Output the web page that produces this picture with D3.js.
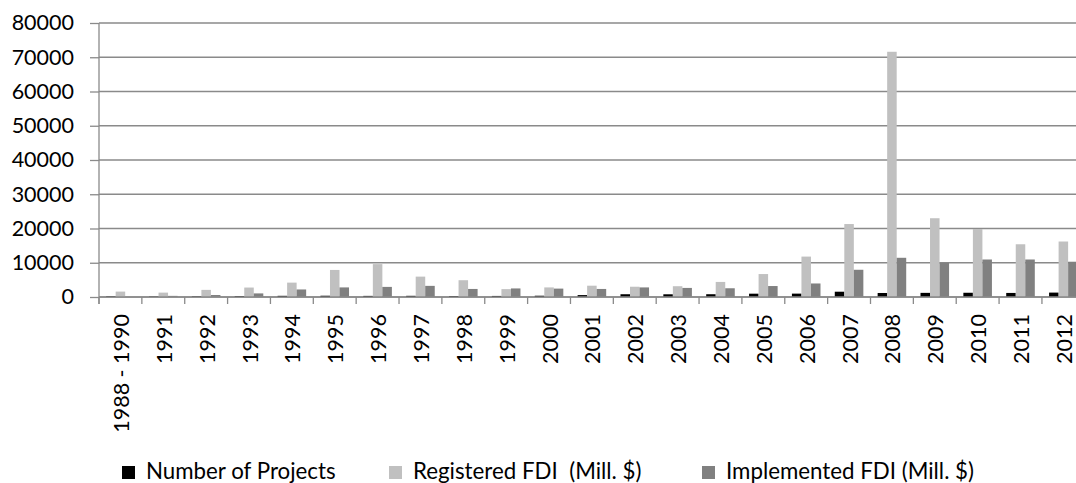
<!DOCTYPE html>
<html>
<head>
<meta charset="utf-8">
<script src="https://cdn.jsdelivr.net/npm/d3@7"></script>
<style>
  html, body { margin: 0; padding: 0; background: #fff; }
  svg { display: block; }
  text { font-family: Lato, "Open Sans", sans-serif; fill: #000; }
</style>
</head>
<body>
<svg id="chart" width="1076" height="483"></svg>
<script>
const categories = ["1988 - 1990","1991","1992","1993","1994","1995","1996","1997","1998","1999","2000","2001","2002","2003","2004","2005","2006","2007","2008","2009","2010","2011","2012"];
const seriesNames = ["Number of Projects", "Registered FDI  (Mill. $)", "Implemented FDI (Mill. $)"];
const projects    = [211, 151, 197, 269, 343, 370, 325, 345, 275, 311, 371, 555, 808, 791, 811, 970, 987, 1544, 1171, 1208, 1237, 1186, 1287];
const registered  = [1580, 1280, 2080, 2760, 4200, 7900, 9600, 5950, 4900, 2300, 2800, 3300, 3000, 3150, 4400, 6700, 11800, 21300, 71600, 23000, 19850, 15400, 16200];
const implemented = [0, 330, 580, 1050, 2200, 2800, 2950, 3250, 2350, 2500, 2450, 2350, 2800, 2650, 2550, 3200, 3950, 7950, 11450, 10000, 10950, 10950, 10300];
const yTicks = [0, 10000, 20000, 30000, 40000, 50000, 60000, 70000, 80000];
const colors = ["#000000", "#c0c0c0", "#808080"];

(function () {
const seriesValues = [projects, registered, implemented];
const rows = categories.map((c, i) => ({cat: c, vals: seriesValues.map(s => s[i])}));

const svg = d3.select("#chart");
const pLeft = 99, pRight = 1084.8, pTop = 23, pBottom = 297;
const gridColor = "#8a8a8a";

const x = d3.scaleBand().domain(categories).range([pLeft, pRight]).paddingInner(0).paddingOuter(0);
const bw = x.bandwidth();
const xs = d3.scaleBand().domain(d3.range(seriesNames.length)).range([bw * 0.75 / 4.5, bw - bw * 0.75 / 4.5]);
const y = d3.scaleLinear().domain([0, 80000]).range([pBottom, pTop]);

// gridlines
svg.append("g").selectAll("line").data(yTicks).join("line")
  .attr("x1", pLeft).attr("x2", pRight)
  .attr("y1", d => y(d)).attr("y2", d => y(d))
  .attr("stroke", gridColor).attr("stroke-width", 1.3);

// bars
const groups = svg.append("g").selectAll("g").data(rows).join("g")
  .attr("transform", d => `translate(${x(d.cat)},0)`);
groups.selectAll("rect").data(d => d.vals.map((v, k) => ({v, k}))).join("rect")
  .attr("x", d => xs(d.k)).attr("width", xs.bandwidth())
  .attr("y", d => y(d.v)).attr("height", d => y(0) - y(d.v))
  .attr("fill", d => colors[d.k]);

// zero line on top
svg.append("line").attr("x1", pLeft).attr("x2", pRight).attr("y1", y(0)).attr("y2", y(0))
  .attr("stroke", gridColor).attr("stroke-width", 1.3);

// left axis
const yAxis = svg.append("g").attr("transform", `translate(${pLeft},0)`)
  .call(d3.axisLeft(y).tickValues(yTicks).tickFormat(d3.format("d")).tickSize(9).tickPadding(16));
yAxis.select(".domain").attr("stroke", gridColor).attr("stroke-width", 1.3)
  .attr("d", `M0,${pTop}V${pBottom + 7}`);
yAxis.selectAll(".tick line").attr("stroke", gridColor).attr("stroke-width", 1.3);
yAxis.selectAll(".tick text").attr("font-size", 21.5).attr("font-family", "Lato, 'Open Sans', sans-serif").attr("fill", "#000");

// bottom category boundary ticks
const boundaries = categories.map(c => x(c)).concat([pRight]);
svg.append("g").selectAll("line").data(boundaries).join("line")
  .attr("x1", d => d).attr("x2", d => d).attr("y1", pBottom).attr("y2", pBottom + 7)
  .attr("stroke", gridColor).attr("stroke-width", 1.3);

// category labels rotated
svg.append("g").selectAll("text").data(categories).join("text")
  .attr("transform", d => `translate(${x(d) + bw / 2 + 1},314) rotate(-90)`)
  .attr("text-anchor", "end").attr("dy", "0.35em")
  .attr("font-size", 21.5)
  .style("white-space", "pre")
  .text(d => d);

// legend
const legendX = [122, 389, 702];
const legend = svg.append("g").selectAll("g").data(seriesNames).join("g")
  .attr("transform", (d, i) => `translate(${legendX[i]},0)`);
legend.append("rect").attr("x", 0).attr("y", 466).attr("width", 13).attr("height", 13)
  .attr("fill", (d, i) => colors[i]);
legend.append("text").attr("x", 24).attr("y", 479).attr("font-size", 22.3)
  .style("white-space", "pre").text(d => d);
})();
</script>
</body>
</html>
